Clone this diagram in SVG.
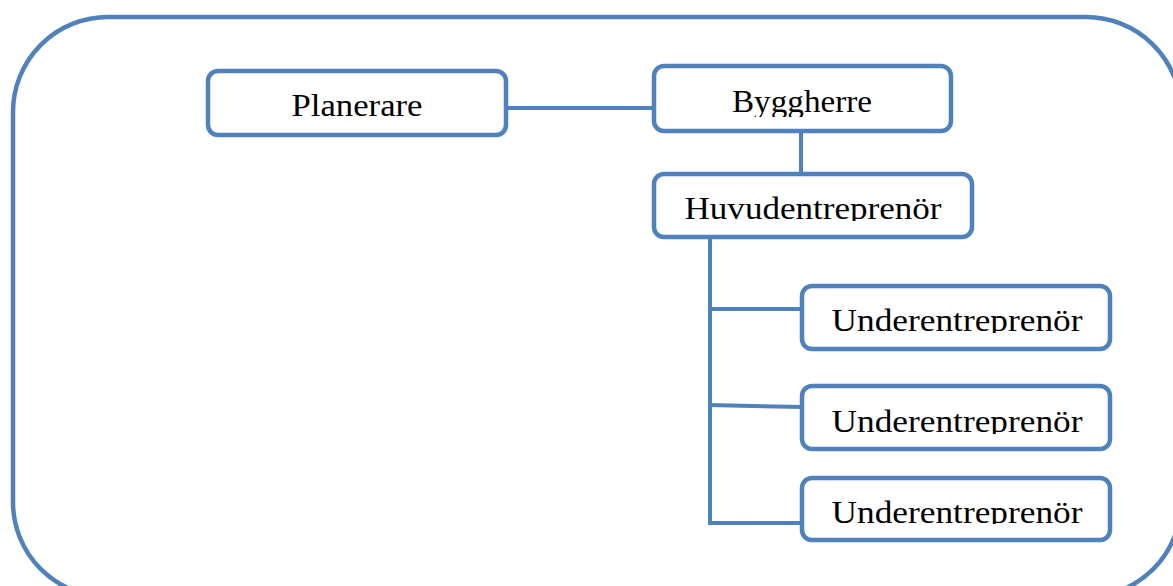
<svg xmlns="http://www.w3.org/2000/svg" width="1173" height="586" viewBox="0 0 1173 586">
<style>
.box{fill:#fff;stroke:#4F81BD;stroke-width:4.5}
.ln{stroke:#4F81BD;stroke-width:4;fill:none}
.t{font-family:"Liberation Serif","Times New Roman",serif;font-size:32px;fill:#000}
</style>
<defs>
<clipPath id="c1"><rect x="600" y="60" width="400" height="57"/></clipPath>
<clipPath id="c2"><rect x="600" y="170" width="400" height="51"/></clipPath>
<clipPath id="c3"><rect x="800" y="280" width="320" height="53"/></clipPath>
<clipPath id="c4"><rect x="800" y="380" width="320" height="54"/></clipPath>
<clipPath id="c5"><rect x="800" y="470" width="320" height="54"/></clipPath>
</defs>
<rect x="13" y="17" width="1168" height="580" rx="95" ry="95" fill="#fff" stroke="#4F81BD" stroke-width="4.5"/>
<g id="connectors">
<line class="ln" x1="506" y1="108" x2="654" y2="108"/>
<line class="ln" x1="801" y1="132" x2="801" y2="174"/>
<line class="ln" x1="710" y1="238" x2="710" y2="525"/>
<line class="ln" x1="708" y1="309" x2="803" y2="309"/>
<line class="ln" x1="708" y1="405" x2="803" y2="407"/>
<line class="ln" x1="708" y1="523" x2="803" y2="523"/>
</g>
<g id="planerare">
<rect class="box" x="208" y="71" width="298" height="64" rx="10"/>
<text class="t" x="357" y="116" text-anchor="middle" textLength="131" lengthAdjust="spacingAndGlyphs">Planerare</text>
</g>
<g id="byggherre">
<rect class="box" x="654" y="66" width="297" height="65" rx="10"/>
<text class="t" x="802" y="112" text-anchor="middle" textLength="140" lengthAdjust="spacingAndGlyphs" clip-path="url(#c1)">Byggherre</text>
</g>
<g id="huvudentreprenor">
<rect class="box" x="654" y="174" width="318" height="63" rx="10"/>
<text class="t" x="813" y="219" text-anchor="middle" textLength="257" lengthAdjust="spacingAndGlyphs" clip-path="url(#c2)">Huvudentreprenör</text>
</g>
<g id="under1">
<rect class="box" x="802" y="286" width="308" height="63" rx="10"/>
<text class="t" x="957" y="331" text-anchor="middle" textLength="251" lengthAdjust="spacingAndGlyphs" clip-path="url(#c3)">Underentreprenör</text>
</g>
<g id="under2">
<rect class="box" x="802" y="386" width="308" height="63" rx="10"/>
<text class="t" x="957" y="432" text-anchor="middle" textLength="251" lengthAdjust="spacingAndGlyphs" clip-path="url(#c4)">Underentreprenör</text>
</g>
<g id="under3">
<rect class="box" x="802" y="478" width="308" height="62" rx="10"/>
<text class="t" x="957" y="523" text-anchor="middle" textLength="251" lengthAdjust="spacingAndGlyphs" clip-path="url(#c5)">Underentreprenör</text>
</g>
</svg>
